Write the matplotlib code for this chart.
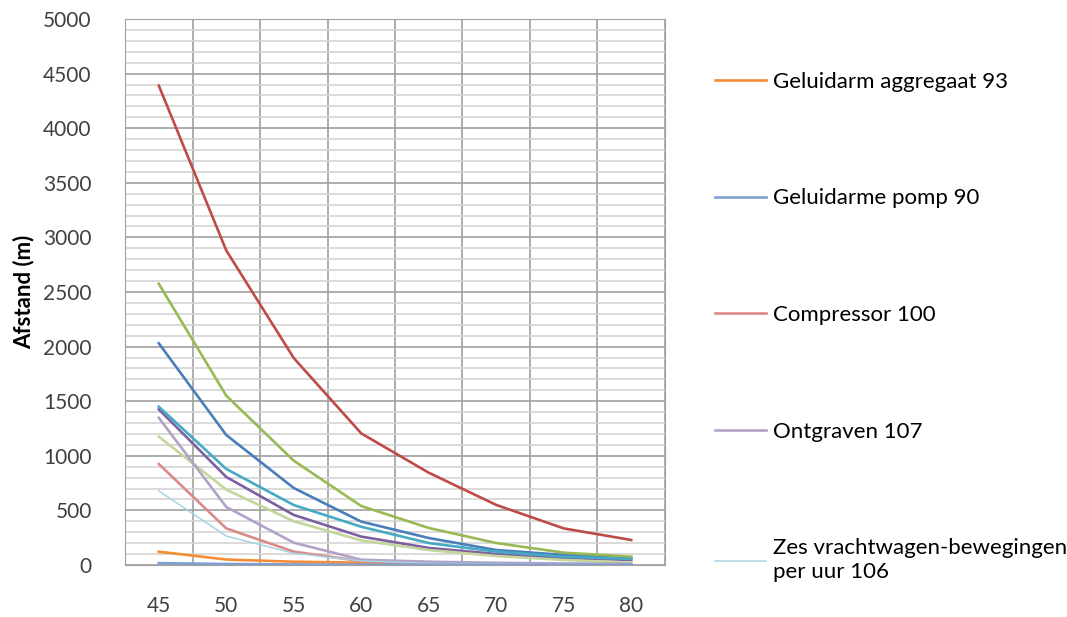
import numpy as np
import matplotlib
matplotlib.use("Agg")
import matplotlib.pyplot as plt
from matplotlib.ticker import MultipleLocator, FixedLocator

plt.rcParams['font.family'] = ['Lato', 'DejaVu Sans']

# geluidsniveau (dB(A)) op de x-as
niveaus = ['45', '50', '55', '60', '65', '70', '75', '80']

# afstand (m) per bron
bron_blauw = [2030, 1190, 705, 397, 247, 137, 92, 64]
bron_rood = [4390, 2880, 1895, 1205, 845, 550, 335, 229]
bron_groen = [2575, 1550, 955, 540, 339, 201, 113, 76]
bron_paars = [1425, 806, 458, 260, 156, 101, 64, 46]
bron_aqua = [1450, 879, 549, 350, 201, 122, 76, 55]
aggregaat_93 = [122, 50, 30, 21, 13, 8, 5, 3]
pomp_90 = [17, 9, 5, 3, 2, 1, 1, 1]
compressor_100 = [925, 335, 122, 35, 15, 8, 5, 3]
bron_lichtgroen = [1175, 690, 400, 225, 137, 82, 46, 21]
ontgraven_107 = [1348, 531, 204, 48, 30, 20, 14, 10]
vrachtwagen_106 = [678, 265, 107, 38, 15, 7, 4, 2]

legend_labels = ['Geluidarm aggregaat 93', 'Geluidarme pomp 90', 'Compressor 100',
                 'Ontgraven 107', 'Zes vrachtwagen-bewegingen\nper uur 106']


def main():
    fig = plt.figure(figsize=(10.67, 6.17), dpi=100)
    ax = fig.add_axes([0.1172, 0.0843, 0.5060, 0.8849])

    x = np.arange(len(niveaus))

    # series in Excel volgorde
    ax.plot(x, bron_blauw, color='#4A7EBB', lw=1.9)
    ax.plot(x, bron_rood, color='#BE4B48', lw=1.9)
    ax.plot(x, bron_groen, color='#98B954', lw=1.9)
    ax.plot(x, bron_paars, color='#7D60A0', lw=1.9)
    ax.plot(x, bron_aqua, color='#46AAC5', lw=1.9)
    l1, = ax.plot(x, aggregaat_93, color='#F68C36', lw=1.9)
    l3, = ax.plot(x, compressor_100, color='#DA8A87', lw=1.9)
    ax.plot(x, bron_lichtgroen, color='#C3D69B', lw=1.9)
    l4, = ax.plot(x, ontgraven_107, color='#B3A2C7', lw=1.9)
    l5, = ax.plot(x, vrachtwagen_106, color='#A5D5E2', lw=1.1)
    l2, = ax.plot(x, pomp_90, color='#7E9FD4', lw=1.9)

    ax.set_xlim(-0.5, len(niveaus) - 0.5)
    ax.set_ylim(0, 5000)

    ax.set_xticks(x)
    ax.set_xticklabels(niveaus)
    ax.xaxis.set_minor_locator(FixedLocator(np.arange(-0.5, len(niveaus), 1.0)))
    ax.yaxis.set_major_locator(MultipleLocator(500))
    ax.yaxis.set_minor_locator(MultipleLocator(100))

    ax.yaxis.grid(True, which='minor', color='#d4d4d4', lw=1.2)
    ax.yaxis.grid(True, which='major', color='#a0a0a0', lw=1.2)
    ax.xaxis.grid(True, which='minor', color='#a0a0a0', lw=1.2)
    ax.xaxis.grid(False, which='major')
    ax.set_axisbelow(True)

    ax.tick_params(which='both', length=0, labelsize=15, colors='#404040')
    ax.tick_params(axis='y', pad=24)
    ax.tick_params(axis='x', pad=22)
    for s in ax.spines.values():
        s.set_color('#a0a0a0')

    ax.set_ylabel('Afstand (m)', fontsize=16, fontweight='bold', labelpad=6)

    leg = fig.legend([l1, l2, l3, l4, l5], legend_labels, loc='upper left',
                     bbox_to_anchor=(0.662, 0.898), frameon=False, fontsize=16,
                     handlelength=2.3, handletextpad=0.3, labelspacing=4.35,
                     borderaxespad=0)
    leg.get_texts()[-1].set_linespacing(1.25)

    fig.savefig('out.png', dpi=100)


if __name__ == '__main__':
    main()
